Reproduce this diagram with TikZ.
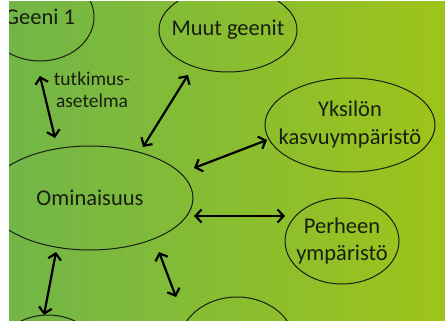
\documentclass[tikz,border=0pt]{standalone}
\usepackage{fontspec}
\setmainfont{Carlito}
\usetikzlibrary{arrows.meta,shapes.geometric}
\definecolor{gl}{RGB}{114,182,72}
\definecolor{gr}{RGB}{158,196,26}
\definecolor{ink}{RGB}{24,30,18}
\newcommand{\zl}[1]{\makebox[0pt]{#1}}
\begin{document}
\begin{tikzpicture}[x=1pt,y=-1pt,
  ell/.style={draw=ink, line width=1pt, ellipse, inner sep=0pt, font=\fontsize{22.5}{28}\selectfont, text=ink, align=center},
  dbl/.style={{Straight Barb[length=6pt,width=13pt]}-{Straight Barb[length=6pt,width=13pt]}, line width=2.2pt, black},
  lbl/.style={font=\fontsize{19.5}{22}\selectfont, text=ink, align=center, inner sep=0pt}]
\useasboundingbox (0,0) rectangle (445,321);
\fill[white] (0,0) rectangle (445,321);
\shade[left color=gl, right color=gr] (9,2) rectangle (445,321);
\begin{scope}
\clip (9,2) rectangle (445,321);
\node[ell, minimum width=108pt, minimum height=88pt] (g1) at (40,17) {\zl{Geeni 1}};
\node[ell, minimum width=138pt, minimum height=84pt] (mg) at (228,30) {\zl{Muut geenit}};
\node[ell, minimum width=170pt, minimum height=94pt] (yk) at (350,125) {\zl{Yksilön}\\\zl{kasvuympäristö}};
\node[ell, minimum width=206pt, minimum height=104pt] (om) at (90,198) {\zl{Ominaisuus}};
\node[ell, minimum width=114pt, minimum height=86pt] (pe) at (342,241) {\zl{Perheen}\\\zl{ympäristö}};
\node[ell, minimum width=110pt, minimum height=94pt] (bl) at (48,362) {};
\node[ell, minimum width=116pt, minimum height=96pt] (bm) at (237,345) {};
\end{scope}
\node[lbl] (tut) at (92,90) {tutkimus-\\asetelma};
\coordinate (a1s) at (40,76);  \coordinate (a1e) at (55,138);
\coordinate (a2s) at (188,75); \coordinate (a2e) at (143,147);
\coordinate (a3s) at (267,140); \coordinate (a3e) at (194,168);
\coordinate (a4s) at (285,216); \coordinate (a4e) at (194,216);
\coordinate (a5s) at (56,252); \coordinate (a5e) at (44,315);
\coordinate (a6s) at (159,252); \coordinate (a6e) at (176,297);
\draw[dbl] (a1s) -- (a1e);
\draw[dbl] (a2s) -- (a2e);
\draw[dbl] (a3s) -- (a3e);
\draw[dbl] (a4s) -- (a4e);
\draw[dbl] (a5s) -- (a5e);
\draw[dbl] (a6s) -- (a6e);
\end{tikzpicture}
\end{document}
